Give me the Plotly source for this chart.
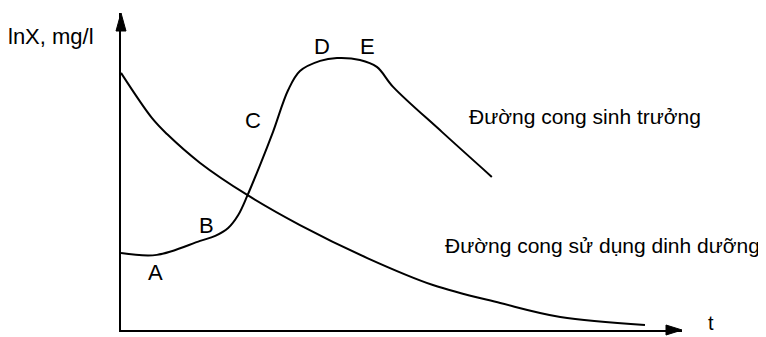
import plotly.graph_objects as go

# ---- data ----
t_nutrient = [0, 0.55, 0.82, 1.41, 2.25, 3.19, 4.39, 5.56, 6.76, 7.83, 9.34]
v_nutrient = [8.11, 6.69, 6.18, 5.27, 4.26, 3.31, 2.27, 1.42, 0.85, 0.41, 0.16]

t_growth = [0, 0.64, 1.41, 1.68, 1.91, 2.09, 2.25, 2.48, 2.71, 2.98, 3.19, 3.55, 3.85, 4.26, 4.56, 4.85, 5.72, 6.61]
v_growth = [2.43, 2.37, 2.81, 2.97, 3.22, 3.63, 4.23, 5.21, 6.25, 7.57, 8.17, 8.49, 8.58, 8.52, 8.30, 7.67, 6.25, 4.83]

phase_labels = ["A", "B", "C", "D", "E"]
phase_t = [0.61, 1.53, 2.35, 3.58, 4.39]
phase_v = [1.80, 3.31, 6.62, 8.93, 8.93]

curve_names = ["Đường cong sinh trưởng", "Đường cong sử dụng dinh dưỡng"]
curve_name_t = [6.17, 5.74]
curve_name_v = [6.75, 2.68]

y_title = "lnX, mg/l"
x_title = "t"

X_MAX = 10
Y_MAX = 10

FONT = "Liberation Sans, Arial, sans-serif"

PLOT_W = 561  # plot-area width in px
PLOT_H = 317  # plot-area height in px

fig = go.Figure()

line_style = dict(color="black", width=2, shape="spline", smoothing=1.0)
fig.add_trace(go.Scatter(x=t_nutrient, y=v_nutrient, mode="lines", line=line_style,
                         hoverinfo="skip", showlegend=False))
fig.add_trace(go.Scatter(x=t_growth, y=v_growth, mode="lines", line=line_style,
                         hoverinfo="skip", showlegend=False))

annotations = []
for lab, tx, vy in zip(phase_labels, phase_t, phase_v):
    annotations.append(dict(x=tx, y=vy, xref="x", yref="y", text=lab, showarrow=False,
                            font=dict(family=FONT, size=22, color="black")))
for lab, tx, vy in zip(curve_names, curve_name_t, curve_name_v):
    annotations.append(dict(x=tx, y=vy, xref="x", yref="y", text=lab, showarrow=False,
                            xanchor="left", yanchor="middle",
                            font=dict(family=FONT, size=21, color="black")))
# axis titles placed in paper coordinates (outside the plotting area)
annotations.append(dict(x=-70 / PLOT_W, y=(330 - 37) / PLOT_H, xref="paper", yref="paper",
                        text=y_title, showarrow=False, xanchor="center", yanchor="middle",
                        font=dict(family=FONT, size=22, color="black")))
annotations.append(dict(x=(711 - 121) / PLOT_W, y=(330 - 323) / PLOT_H, xref="paper", yref="paper",
                        text=x_title, showarrow=False, xanchor="center", yanchor="middle",
                        font=dict(family=FONT, size=20, color="black")))

# arrowheads at the ends of both axes (paper-referenced so they are not clipped)
head_len_y = 18 / PLOT_H
head_len_x = 16 / PLOT_W
shapes = [
    dict(type="path", xref="paper", yref="paper", ysizemode="pixel", yanchor=0,
         path=f"M{1 - head_len_x},-5 L1,0 L{1 - head_len_x},5 Z",
         fillcolor="black", line=dict(color="black", width=1)),
    dict(type="path", xref="paper", yref="paper", xsizemode="pixel", xanchor=0,
         path=f"M-5,{1 - head_len_y} L0,1 L5,{1 - head_len_y} Z",
         fillcolor="black", line=dict(color="black", width=1)),
]

axis_common = dict(showgrid=False, zeroline=False, showticklabels=False, ticks="",
                   showline=True, linecolor="black", linewidth=2, mirror=False, fixedrange=True)

# The page body keeps its default 8px margin, so the figure is offset by 8px;
# size and margins compensate so the axes land where the reference has them.
fig.update_layout(
    width=758, height=329,
    margin=dict(l=113, r=84, t=5, b=7),
    paper_bgcolor="white", plot_bgcolor="white",
    xaxis=dict(range=[0, X_MAX], **axis_common),
    yaxis=dict(range=[0, Y_MAX], **axis_common),
    annotations=annotations,
    shapes=shapes,
    showlegend=False,
)

fig.write_html("out.html")
